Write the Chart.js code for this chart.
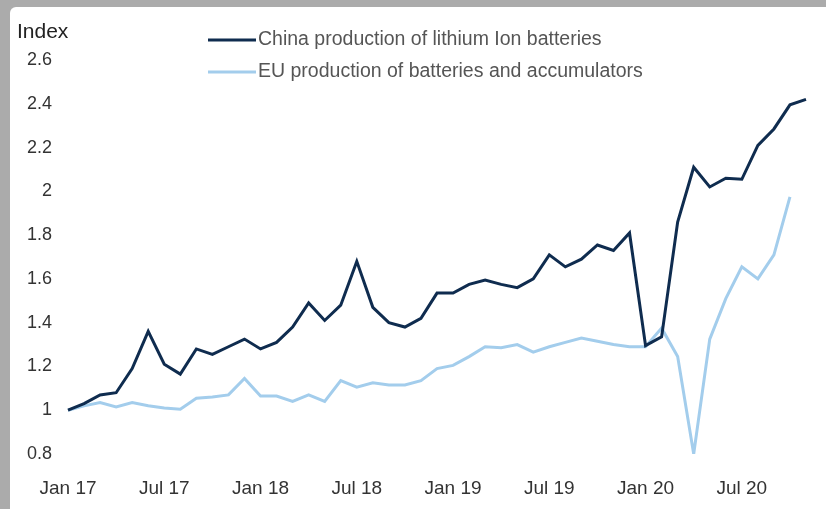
<!DOCTYPE html>
<html>
<head>
<meta charset="utf-8">
<script src="https://cdn.jsdelivr.net/npm/chart.js@4.4.0/dist/chart.umd.min.js"></script>
<style>
  html, body { margin:0; padding:0; width:826px; height:509px; overflow:hidden; background:#ababab; }
  #panel { position:absolute; left:10px; top:7px; right:0; bottom:0; background:#fff; border-top-left-radius:6px; }
  #wrap { position:absolute; left:0; top:0; width:826px; height:509px; }
</style>
</head>
<body>
<div id="panel"></div>
<div id="wrap"><canvas id="chart" width="826" height="509"></canvas></div>
<script>
/* ==== Data ==== */
const MONTHS = [
  "Jan 17","Feb 17","Mar 17","Apr 17","May 17","Jun 17","Jul 17","Aug 17","Sep 17","Oct 17","Nov 17","Dec 17",
  "Jan 18","Feb 18","Mar 18","Apr 18","May 18","Jun 18","Jul 18","Aug 18","Sep 18","Oct 18","Nov 18","Dec 18",
  "Jan 19","Feb 19","Mar 19","Apr 19","May 19","Jun 19","Jul 19","Aug 19","Sep 19","Oct 19","Nov 19","Dec 19",
  "Jan 20","Feb 20","Mar 20","Apr 20","May 20","Jun 20","Jul 20","Aug 20","Sep 20","Oct 20","Nov 20"
];
const CHINA = [
  1.00,1.03,1.07,1.08,1.19,1.36,1.21,1.165,1.28,1.255,1.29,1.325,
  1.28,1.31,1.38,1.49,1.41,1.48,1.68,1.47,1.40,1.38,1.42,1.535,
  1.535,1.575,1.595,1.575,1.56,1.60,1.71,1.655,1.69,1.755,1.73,1.81,
  1.295,1.335,1.86,2.11,2.02,2.06,2.055,2.21,2.285,2.395,2.42
];
const EU = [
  1.00,1.02,1.035,1.015,1.035,1.02,1.01,1.005,1.055,1.06,1.07,1.145,
  1.065,1.065,1.04,1.07,1.04,1.135,1.105,1.125,1.115,1.115,1.135,1.19,
  1.205,1.245,1.29,1.285,1.30,1.265,1.29,1.31,1.33,1.315,1.30,1.29,
  1.29,1.375,1.245,0.80,1.325,1.51,1.655,1.60,1.71,1.975
];
const SERIES_NAMES = ["China production of lithium Ion batteries", "EU production of batteries and accumulators"];
const SERIES_COLORS = ["#0f2c4f", "#a3cdec"];
const Y_TICKS = [0.8, 1, 1.2, 1.4, 1.6, 1.8, 2, 2.2, 2.4, 2.6];
const SHOWN_TICKS = ["Jan 17","Jul 17","Jan 18","Jul 18","Jan 19","Jul 19","Jan 20","Jul 20"];

const FONT = "'Liberation Sans', Arial, sans-serif";

/* ==== Plugins: axis title + stacked legend ==== */
const extras = {
  id: 'extras',
  afterDraw(chart){
    const ctx = chart.ctx;
    ctx.save();
    ctx.fillStyle = '#222';
    ctx.font = '21px ' + FONT;
    ctx.textBaseline = 'middle';
    ctx.textAlign = 'left';
    ctx.fillText('Index', 17, 32);

    chart.data.datasets.forEach((ds, i) => {
      const y = 40 + i * 32;
      ctx.strokeStyle = ds.borderColor;
      ctx.lineWidth = 3;
      ctx.beginPath(); ctx.moveTo(208, y); ctx.lineTo(256, y); ctx.stroke();
      ctx.fillStyle = '#555';
      ctx.font = '19.5px ' + FONT;
      ctx.fillText(ds.label, 258, y);
    });
    ctx.restore();
  }
};

/* ==== Chart ==== */
const ctx = document.getElementById('chart').getContext('2d');
new Chart(ctx, {
  type: 'line',
  data: {
    labels: MONTHS,
    datasets: [
      { label: SERIES_NAMES[0], data: CHINA, borderColor: SERIES_COLORS[0], borderWidth: 3, pointRadius: 0, tension: 0 },
      { label: SERIES_NAMES[1], data: EU, borderColor: SERIES_COLORS[1], borderWidth: 3, pointRadius: 0, tension: 0 }
    ]
  },
  options: {
    responsive: false,
    animation: false,
    layout: { padding: { left: 0, right: 20, top: 60, bottom: 0 } },
    plugins: { legend: { display: false }, tooltip: { enabled: false } },
    scales: {
      x: {
        grid: { display: false },
        border: { display: false },
        afterFit: s => { s.height = 55; },
        ticks: {
          autoSkip: false, maxRotation: 0, padding: 15,
          color: '#333', font: { size: 19, family: FONT },
          callback: function(v){ const l = this.getLabelForValue(v); return SHOWN_TICKS.includes(l) ? l : null; }
        }
      },
      y: {
        min: 0.8, max: 2.6,
        grid: { display: false },
        border: { display: false },
        afterFit: s => { s.width = 68; },
        afterBuildTicks: s => { s.ticks = Y_TICKS.map(v => ({ value: v })); },
        ticks: {
          padding: 8, color: '#333', font: { size: 18, family: FONT },
          callback: v => String(Math.round(v * 10) / 10)
        }
      }
    }
  },
  plugins: [extras]
});
</script>
</body>
</html>
